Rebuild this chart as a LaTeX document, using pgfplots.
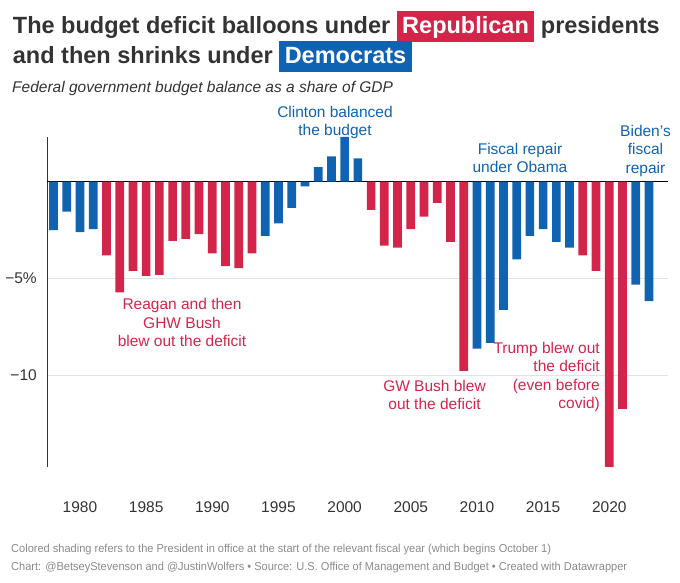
\documentclass[border=0pt]{standalone}
\usepackage{pgfplots}
\pgfplotsset{compat=1.18}
\usepackage{fontspec}
\setmainfont{Liberation Sans}
\newfontfamily\footfont{Liberation Sans}[FakeStretch=0.96]
\definecolor{rep}{HTML}{D3254A}
\definecolor{dem}{HTML}{0F63B1}
\definecolor{txt}{HTML}{333333}
\definecolor{foot}{HTML}{8A8A8A}
\definecolor{gridc}{HTML}{E3E3E3}
\newcommand{\hlbox}[2]{{\setlength{\fboxsep}{0pt}\colorbox{#1}{\rule[-8.3pt]{0pt}{30.6pt}\hspace{5.5pt}\textcolor{white}{#2}\hspace{5.5pt}}}}
\newcommand{\ann}{\fontsize{15.5}{18}\selectfont}
\begin{document}
\begin{tikzpicture}[x=1pt,y=1pt]
\useasboundingbox (0,0) rectangle (680,583);
\begin{axis}[
  at={(47.3pt,116pt)}, anchor=south west,
  scale only axis, width=621pt, height=330pt,
  xmin=1977.53, xmax=2024.46, ymin=-14.7, ymax=2.3,
  axis lines=left,
  axis line style={-},
  x axis line style={draw=none},
  y axis line style={draw=txt, line width=1pt},
  xtick={1980,1985,...,2020},
  ytick={-10,-5}, yticklabels={−10,−5\%},
  extra y ticks={0}, extra y tick labels={},
  extra y tick style={grid style={black, line width=1.3pt}},
  ymajorgrids, grid style={gridc, line width=0.8pt},
  major tick length=0,
  tick label style={font=\fontsize{15.5}{18}\selectfont, text=txt},
  xticklabel style={anchor=base, yshift=-46pt},
  yticklabel style={anchor=base east, xshift=-7pt, yshift=-5pt},
  /pgf/number format/assume math mode=true,
  /pgf/number format/1000 sep={},
  clip=false,
]
\addplot[ybar, bar width=8.7pt, bar shift=0pt, fill=dem, draw=none] coordinates {
(1978,-2.5) (1979,-1.55) (1980,-2.6) (1981,-2.45)
(1994,-2.8) (1995,-2.15) (1996,-1.35) (1997,-0.25) (1998,0.75) (1999,1.3) (2000,2.3) (2001,1.2)
(2010,-8.6) (2011,-8.3) (2012,-6.6) (2013,-4.0) (2014,-2.8) (2015,-2.45) (2016,-3.1) (2017,-3.4)
(2022,-5.3) (2023,-6.15)
};
\addplot[ybar, bar width=8.7pt, bar shift=0pt, fill=rep, draw=none] coordinates {
(1982,-3.8) (1983,-5.7) (1984,-4.6) (1985,-4.85) (1986,-4.8) (1987,-3.05) (1988,-2.95) (1989,-2.7)
(1990,-3.7) (1991,-4.35) (1992,-4.45) (1993,-3.7)
(2002,-1.45) (2003,-3.3) (2004,-3.4) (2005,-2.45) (2006,-1.8) (2007,-1.1) (2008,-3.1) (2009,-9.75)
(2018,-3.8) (2019,-4.6) (2020,-14.7) (2021,-11.7)
};
\end{axis}
% title
\node[anchor=base west, inner sep=0, text=txt, font=\fontsize{23.5}{28}\selectfont\bfseries] at (12.7,549.7) {The budget deficit balloons under \hlbox{rep}{Republican} presidents};
\node[anchor=base west, inner sep=0, text=txt, font=\fontsize{23.5}{28}\selectfont\bfseries] at (12.7,519.7) {and then shrinks under \hlbox{dem}{Democrats}};
\node[anchor=base west, inner sep=0, text=txt, font=\fontsize{15.5}{18}\selectfont\itshape] at (12,490.3) {Federal government budget balance as a share of GDP};
% annotations
\node[anchor=base, inner sep=0, text=dem, font=\ann] at (335,465.5) {Clinton balanced};
\node[anchor=base, inner sep=0, text=dem, font=\ann] at (335,447) {the budget};
\node[anchor=base, inner sep=0, text=dem, font=\ann] at (520,428.5) {Fiscal repair};
\node[anchor=base, inner sep=0, text=dem, font=\ann] at (520,410) {under Obama};
\node[anchor=base, inner sep=0, text=dem, font=\ann] at (645.5,446.5) {Biden's};
\node[anchor=base, inner sep=0, text=dem, font=\ann] at (645.5,428) {fiscal};
\node[anchor=base, inner sep=0, text=dem, font=\ann] at (645.5,409.5) {repair};
\node[anchor=base, inner sep=0, text=rep, font=\ann] at (182,273) {Reagan and then};
\node[anchor=base, inner sep=0, text=rep, font=\ann] at (182,254.5) {GHW Bush};
\node[anchor=base, inner sep=0, text=rep, font=\ann] at (182,236) {blew out the deficit};
\node[anchor=base, inner sep=0, text=rep, font=\ann] at (434.5,191.5) {GW Bush blew};
\node[anchor=base, inner sep=0, text=rep, font=\ann] at (434.5,173) {out the deficit};
\node[anchor=base east, inner sep=0, text=rep, font=\ann] at (600,229.5) {Trump blew out};
\node[anchor=base east, inner sep=0, text=rep, font=\ann] at (600,211) {the deficit};
\node[anchor=base east, inner sep=0, text=rep, font=\ann] at (600,192.5) {(even before};
\node[anchor=base east, inner sep=0, text=rep, font=\ann] at (600,174) {covid)};
% footer
\node[anchor=base west, inner sep=0, text=foot, font=\footfont\fontsize{11.5}{14}\selectfont] at (11,30) {Colored shading refers to the President in office at the start of the relevant fiscal year (which begins October 1)};
\node[anchor=base west, inner sep=0, text=foot, font=\footfont\fontsize{11.5}{14}\selectfont] at (11,12) {Chart: @BetseyStevenson and @JustinWolfers • Source: U.S. Office of Management and Budget • Created with Datawrapper};
\end{tikzpicture}
\end{document}
